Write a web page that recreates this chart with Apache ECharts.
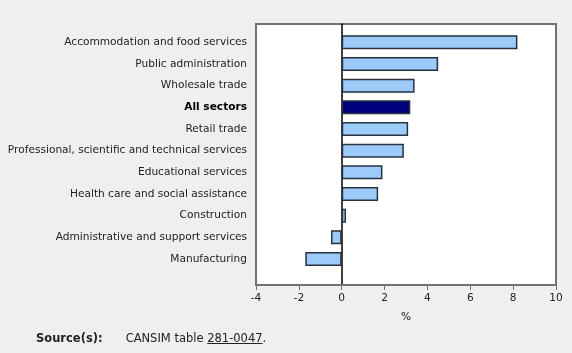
<!DOCTYPE html>
<html><head><meta charset="utf-8">
<script src="https://cdn.jsdelivr.net/npm/echarts@6/dist/echarts.min.js"></script>
<style>html,body{margin:0;padding:0;background:#efefef;}#c{width:572px;height:353px;}
#src{position:absolute;left:36px;top:331px;font-family:'DejaVu Sans',Verdana,sans-serif;font-size:11.5px;color:#222;}
#src b{margin-right:23px;} #src a{color:#222;}</style>
</head><body><div id="c"></div>
<div id="src"><b>Source(s):</b>CANSIM table <a href="#">281-0047</a>.</div>
<script>
const categories = ["Accommodation and food services","Public administration","Wholesale trade","All sectors","Retail trade","Professional, scientific and technical services","Educational services","Health care and social assistance","Construction","Administrative and support services","Manufacturing"];
const values = [8.2, 4.5, 3.4, 3.2, 3.1, 2.9, 1.9, 1.7, 0.2, -0.5, -1.7];
const highlight = "All sectors";
const xTicks = [-4, -2, 0, 2, 4, 6, 8, 10];
const axisTitle = "%";

const font = 'DejaVu Sans';
const xmin = xTicks[0], xmax = xTicks[xTicks.length-1];
const chart = echarts.init(document.getElementById('c'));
chart.setOption({
  backgroundColor: '#efefef',
  animation: false,
  grid: [
    {left: 256, right: 16, top: 24, bottom: 68, show: true, backgroundColor: '#ffffff', borderColor: '#727272', borderWidth: 2, outerBoundsMode: 'none'},
    {left: 256, right: 16, top: 31.5, bottom: 83.2, outerBoundsMode: 'none'}
  ],
  xAxis: [{
    gridIndex: 0, type: 'value', min: xmin, max: xmax, interval: 2,
    name: axisTitle, nameLocation: 'middle', nameGap: 27,
    nameTextStyle: {fontFamily: font, fontSize: 10.6, color: '#222'},
    axisLine: {show: true, onZero: false, lineStyle: {color: '#727272', width: 2}},
    axisTick: {show: true, length: 5, lineStyle: {color: '#727272', width: 1}},
    axisLabel: {fontFamily: font, fontSize: 10.6, color: '#222', margin: 8},
    splitLine: {show: false}
  }, {
    gridIndex: 1, type: 'value', min: xmin, max: xmax, interval: 2, show: false, splitLine: {show: false}
  }],
  yAxis: [{
    gridIndex: 0, type: 'category', data: [''],
    axisLine: {show: true, onZero: true, lineStyle: {color: '#000', width: 1.5}},
    axisTick: {show: false}, axisLabel: {show: false}, splitLine: {show: false}
  }, {
    gridIndex: 1, type: 'category', data: categories, inverse: true,
    axisLine: {show: false}, axisTick: {show: false},
    axisLabel: {
      margin: 9, fontFamily: font, fontSize: 10.6, color: '#222',
      formatter: v => v === highlight ? '{b|' + v + '}' : v,
      rich: {b: {fontWeight: 'bold', fontFamily: font, fontSize: 10.6, color: '#000'}}
    }
  }],
  series: [{
    type: 'bar', xAxisIndex: 1, yAxisIndex: 1, barWidth: 14,
    data: values.map((v, i) => ({value: v, itemStyle: {color: categories[i] === highlight ? '#000080' : '#9ccbfa', borderColor: '#26323f', borderWidth: 1.5}}))
  }]
});
</script></body></html>
